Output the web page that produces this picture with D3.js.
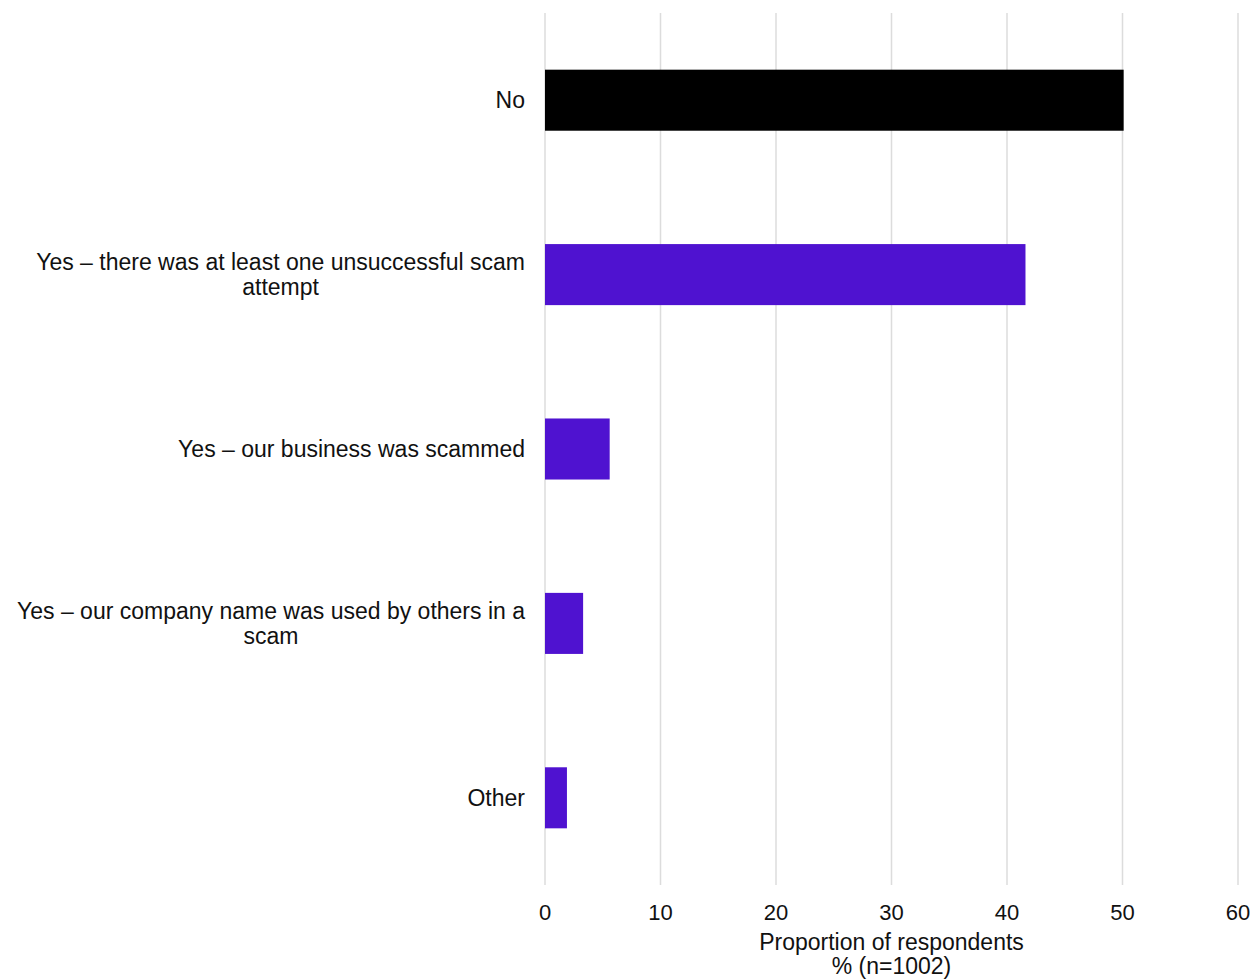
<!DOCTYPE html>
<html lang="en">
<head>
  <meta charset="UTF-8" />
  <title>Scam experience</title>
  <style>
    html, body { margin: 0; padding: 0; background: #fff; }
    svg { font-family: "Liberation Sans", Arial, Helvetica, sans-serif; display: block; }
    .grid line { stroke: #dcdcdc; stroke-width: 1.5px; }
    .cat { font-size: 23px; fill: #111; }
    .tick-label { font-size: 22px; fill: #111; }
    .axis-title { font-size: 23px; fill: #111; }
  </style>
</head>
<body>
  <svg width="1259" height="979"></svg>

  <script src="https://d3js.org/d3.v7.min.js"></script>
  <script>
    const categories = [
      "No",
      "Yes – there was at least one unsuccessful scam attempt",
      "Yes – our business was scammed",
      "Yes – our company name was used by others in a scam",
      "Other"
    ];
    const values = [50.1, 41.6, 5.6, 3.3, 1.9];
    const barColors = ["#000000", "#4f12d0", "#4f12d0", "#4f12d0", "#4f12d0"];
    const xTicks = [0, 10, 20, 30, 40, 50, 60];
    const axisTitle = ["Proportion of respondents", "% (n=1002)"];

    const margin = { top: 13, right: 21, bottom: 94, left: 545 };
    const width = 1259, height = 979;

    const svg = d3.select("svg");

    const x = d3.scaleLinear()
      .domain([0, 60])
      .range([margin.left, width - margin.right]);

    const y = d3.scaleBand()
      .domain(categories)
      .range([margin.top, height - margin.bottom])
      .paddingInner(0.65)
      .paddingOuter(0.325);

    // vertical grid lines
    svg.append("g")
      .attr("class", "grid")
      .selectAll("line")
      .data(xTicks)
      .join("line")
      .attr("x1", d => x(d))
      .attr("x2", d => x(d))
      .attr("y1", margin.top)
      .attr("y2", height - margin.bottom);

    // bars
    svg.append("g")
      .selectAll("rect")
      .data(categories)
      .join("rect")
      .attr("x", x(0))
      .attr("y", d => y(d))
      .attr("width", (d, i) => x(values[i]) - x(0))
      .attr("height", y.bandwidth())
      .attr("fill", (d, i) => barColors[i]);

    // category labels, wrapped to fit left of the plot
    const maxLabelWidth = 520;
    const labels = svg.append("g")
      .selectAll("text")
      .data(categories)
      .join("text")
      .attr("class", "cat")
      .attr("text-anchor", "end")
      .attr("x", x(0) - 20)
      .attr("y", d => y(d) + y.bandwidth() / 2);

    labels.each(function(d) {
      const text = d3.select(this);
      const words = d.split(" ");
      const lines = [];
      let line = [];
      const probe = text.append("tspan");
      for (const w of words) {
        line.push(w);
        probe.text(line.join(" "));
        if (probe.node().getComputedTextLength() > maxLabelWidth && line.length > 1) {
          line.pop();
          lines.push(line.join(" "));
          line = [w];
        }
      }
      lines.push(line.join(" "));
      probe.remove();

      const lh = 25;
      const x0 = +text.attr("x");
      const cy = +text.attr("y");
      lines.forEach((l, i) => {
        text.append("tspan")
          .attr("x", x0)
          .attr("y", cy + (i - (lines.length - 1) / 2) * lh)
          .attr("dy", "0.35em")
          .text(l);
      });
      // wrapped lines in the reference are centred under the first line
      if (lines.length > 1) {
        const spans = text.selectAll("tspan").nodes();
        const w0 = spans[0].getComputedTextLength();
        const center = x0 - w0 / 2;
        spans.forEach((s, i) => {
          if (i > 0) d3.select(s).attr("x", center).attr("text-anchor", "middle");
        });
      }
    });

    // x tick labels
    svg.append("g")
      .selectAll("text")
      .data(xTicks)
      .join("text")
      .attr("class", "tick-label")
      .attr("text-anchor", "middle")
      .attr("x", d => x(d))
      .attr("y", 912)
      .attr("dy", "0.35em")
      .text(d => d);

    // axis title
    svg.append("g")
      .selectAll("text")
      .data(axisTitle)
      .join("text")
      .attr("class", "axis-title")
      .attr("text-anchor", "middle")
      .attr("x", (x(0) + x(60)) / 2)
      .attr("y", (d, i) => 942 + i * 24)
      .attr("dy", "0.35em")
      .text(d => d);
  </script>
</body>
</html>
